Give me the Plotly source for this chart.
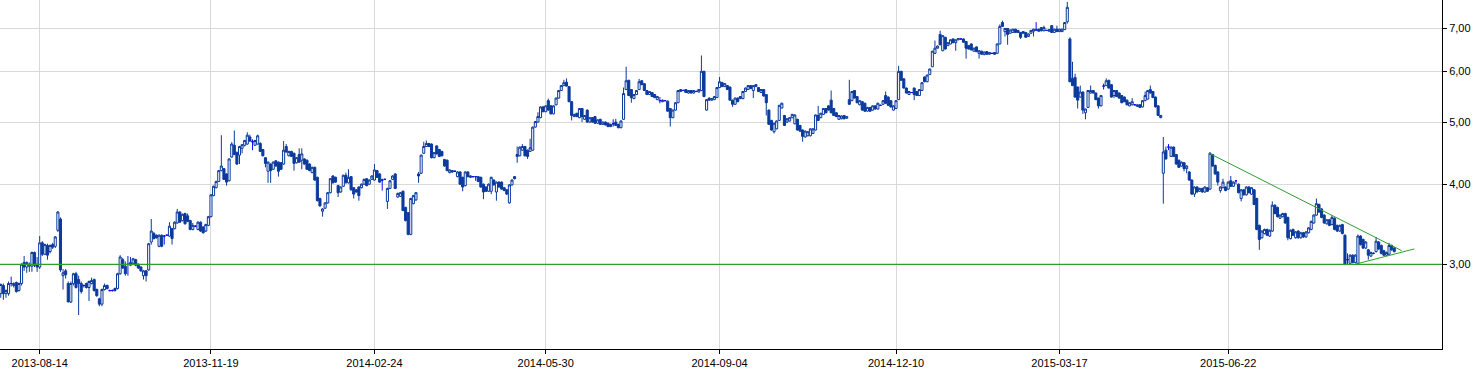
import numpy as np
import pandas as pd
import plotly.graph_objects as go

# ---------------- data ----------------
start_date = "2013-07-24"
gpw_holidays = ["2013-08-15", "2013-11-01", "2013-11-11", "2013-12-24", "2013-12-25",
                "2013-12-26", "2013-12-31", "2014-01-01", "2014-01-06", "2014-04-18",
                "2014-04-21", "2014-05-01", "2014-06-19", "2014-08-15", "2014-11-11",
                "2014-12-24", "2014-12-25", "2014-12-26", "2014-12-31", "2015-01-01",
                "2015-01-06", "2015-04-03", "2015-04-06", "2015-05-01", "2015-06-04"]

tick_dates = ["2013-08-14", "2013-11-19", "2014-02-24", "2014-05-30",
              "2014-09-04", "2014-12-10", "2015-03-17", "2015-06-22"]
price_ticks = [3, 4, 5, 6, 7]
price_tick_text = ["3,00", "4,00", "5,00", "6,00", "7,00"]

open_ = [
 2.70, 2.78, 2.70, 2.70, 2.80, 2.78, 2.81, 2.73, 2.80, 3.02,
 2.97, 2.98, 2.98, 3.13, 3.00, 2.97, 3.24, 3.11, 3.21, 3.14,
 3.22, 3.20, 3.39, 3.53, 2.88, 2.93, 2.80, 2.62, 2.80, 2.90,
 2.84, 2.80, 2.78, 2.80, 2.76, 2.80, 2.84, 2.74, 2.65, 2.60,
 2.74, 2.78, 2.73, 2.73, 2.73, 2.75, 2.90, 3.05, 2.98, 3.00,
 2.99, 3.01, 3.05, 3.00, 2.97, 2.88, 2.93, 2.94, 3.25, 3.35,
 3.33, 3.20, 3.33, 3.32, 3.33, 3.32, 3.41, 3.41, 3.48, 3.62,
 3.51, 3.60, 3.57, 3.51, 3.40, 3.44, 3.40, 3.49, 3.43, 3.38,
 3.45, 3.56, 3.84, 3.95, 4.04, 4.20, 4.23, 4.15, 4.05, 4.41,
 4.60, 4.48, 4.44, 4.55, 4.60, 4.62, 4.74, 4.66, 4.60, 4.62,
 4.63, 4.53, 4.40, 4.19, 4.30, 4.22, 4.35, 4.33, 4.32, 4.30,
 4.58, 4.43, 4.50, 4.47, 4.32, 4.45, 4.36, 4.38, 4.36, 4.30,
 4.17, 4.25, 4.10, 3.80, 3.63, 3.67, 3.74, 3.88, 4.12, 4.10,
 3.98, 3.89, 3.97, 4.13, 4.02, 4.11, 3.95, 3.92, 3.96, 3.95,
 4.00, 4.08, 4.00, 4.07, 4.06, 4.20, 4.15, 4.06, 4.07, 3.76,
 3.94, 4.07, 4.15, 3.82, 3.83, 3.90, 3.68, 3.61, 3.34, 3.73,
 3.78, 4.15, 4.16, 4.47, 4.58, 4.63, 4.62, 4.40, 4.59, 4.53,
 4.50, 4.37, 4.36, 4.17, 4.20, 4.19, 4.11, 4.18, 4.10, 3.98,
 4.18, 4.10, 4.11, 4.11, 4.11, 4.10, 4.00, 3.96, 3.90, 3.90,
 4.06, 3.89, 4.03, 4.03, 3.95, 3.92, 3.74, 3.99, 4.11, 4.45,
 4.43, 4.52, 4.58, 4.52, 4.50, 4.52, 4.91, 5.00, 5.08, 5.28,
 5.19, 5.40, 5.30, 5.15, 5.32, 5.45, 5.60, 5.70, 5.77, 5.68,
 5.38, 5.10, 5.16, 5.08, 5.25, 5.05, 5.22, 5.00, 5.08, 5.10,
 4.98, 5.05, 4.96, 5.00, 4.98, 4.96, 4.97, 5.00, 4.96, 4.90,
 5.05, 5.62, 5.81, 5.62, 5.44, 5.52, 5.62, 5.80, 5.74, 5.60,
 5.52, 5.56, 5.52, 5.42, 5.40, 5.38, 5.40, 5.39, 5.25, 5.08,
 5.22, 5.36, 5.58, 5.60, 5.62, 5.55, 5.60, 5.55, 5.58, 5.57,
 5.60, 6.00, 5.22, 5.45, 5.41, 5.42, 5.46, 5.66, 5.76, 5.68,
 5.70, 5.67, 5.41, 5.33, 5.45, 5.48, 5.44, 5.58, 5.62, 5.70,
 5.60, 5.68, 5.66, 5.56, 5.62, 5.52, 5.22, 5.03, 4.83, 4.88,
 5.03, 5.26, 5.12, 5.00, 5.02, 5.08, 4.97, 5.05, 4.94, 4.86,
 4.74, 4.76, 4.76, 4.80, 4.86, 5.12, 5.08, 5.14, 5.25, 5.30,
 5.41, 5.25, 5.17, 5.05, 5.06, 5.12, 5.07, 5.42, 5.40, 5.60,
 5.48, 5.32, 5.38, 5.35, 5.20, 5.27, 5.22, 5.30, 5.24, 5.31,
 5.33, 5.50, 5.47, 5.40, 5.22, 5.25, 5.42, 6.00, 5.84, 5.65,
 5.52, 5.56, 5.65, 5.58, 5.50, 5.60, 5.88, 5.78, 5.93, 6.10,
 6.40, 6.52, 6.85, 6.46, 6.78, 6.58, 6.62, 6.74, 6.65, 6.72,
 6.74, 6.74, 6.68, 6.58, 6.62, 6.45, 6.55, 6.40, 6.45, 6.37,
 6.44, 6.38, 6.40, 6.42, 6.40, 6.62, 7.15, 6.92, 7.00, 6.88,
 6.90, 6.98, 6.95, 6.90, 6.92, 6.90, 6.80, 6.88, 6.93, 6.96,
 6.98, 7.02, 6.94, 6.95, 6.93, 7.07, 6.90, 6.98, 6.92, 6.92,
 6.97, 7.17, 6.74, 5.85, 5.87, 5.67, 5.47, 5.57, 5.17, 5.27,
 5.55, 5.60, 5.55, 5.45, 5.30, 5.69, 5.70, 5.81, 5.72, 5.50,
 5.60, 5.55, 5.50, 5.47, 5.41, 5.30, 5.32, 5.32, 5.29, 5.32,
 5.28, 5.40, 5.43, 5.62, 5.58, 5.47, 5.30, 5.08, 4.16, 4.52,
 4.57, 4.42, 4.57, 4.45, 4.36, 4.27, 4.32, 4.23, 4.18, 4.06,
 3.86, 3.96, 3.90, 3.94, 3.89, 3.95, 3.93, 4.45, 4.28, 4.18,
 3.91, 3.95, 3.96, 3.93, 4.05, 3.97, 4.05, 4.00, 3.80, 3.92,
 3.85, 3.96, 3.86, 3.92, 3.80, 3.45, 3.30, 3.35, 3.40, 3.32,
 3.38, 3.71, 3.68, 3.54, 3.56, 3.60, 3.55, 3.29, 3.40, 3.30,
 3.38, 3.30, 3.36, 3.31, 3.36, 3.40, 3.48, 3.58, 3.72, 3.66,
 3.58, 3.47, 3.52, 3.46, 3.54, 3.45, 3.38, 3.46, 3.33, 3.05,
 3.01, 3.10, 3.02, 3.01, 3.32, 3.28, 3.18, 3.16, 3.09, 3.12,
 3.14, 3.25, 3.21, 3.15, 3.10, 3.11, 3.21, 3.18]

high = [
 2.80, 2.80, 2.74, 2.82, 2.87, 2.81, 2.82, 2.81, 3.01, 3.09,
 3.03, 3.02, 3.14, 3.14, 3.08, 3.32, 3.26, 3.23, 3.23, 3.22,
 3.24, 3.32, 3.63, 3.55, 2.95, 2.95, 2.82, 2.82, 2.91, 2.92,
 2.88, 2.82, 2.79, 2.81, 2.83, 2.86, 2.85, 2.75, 2.66, 2.75,
 2.80, 2.79, 2.74, 2.74, 2.76, 2.91, 3.10, 3.07, 3.03, 3.09,
 3.08, 3.07, 3.06, 3.01, 2.98, 2.94, 2.94, 3.24, 3.53, 3.37,
 3.34, 3.34, 3.34, 3.33, 3.34, 3.49, 3.42, 3.50, 3.66, 3.63,
 3.60, 3.61, 3.60, 3.52, 3.48, 3.45, 3.50, 3.50, 3.44, 3.47,
 3.57, 3.86, 3.98, 4.05, 4.21, 4.77, 4.24, 4.16, 4.39, 4.65,
 4.85, 4.50, 4.59, 4.62, 4.69, 4.82, 4.78, 4.70, 4.69, 4.78,
 4.65, 4.54, 4.41, 4.34, 4.31, 4.34, 4.36, 4.34, 4.33, 4.67,
 4.62, 4.51, 4.51, 4.48, 4.41, 4.55, 4.55, 4.39, 4.37, 4.31,
 4.26, 4.26, 4.11, 3.81, 3.67, 3.75, 3.89, 4.09, 4.13, 4.11,
 3.99, 3.97, 4.14, 4.17, 4.22, 4.12, 3.96, 3.93, 3.97, 4.01,
 4.08, 4.09, 4.07, 4.13, 4.30, 4.21, 4.16, 4.08, 4.08, 3.95,
 4.06, 4.13, 4.16, 3.88, 3.89, 3.91, 3.69, 3.62, 3.81, 3.85,
 3.89, 4.18, 4.45, 4.66, 4.68, 4.64, 4.63, 4.49, 4.60, 4.54,
 4.51, 4.38, 4.37, 4.22, 4.21, 4.20, 4.19, 4.19, 4.11, 4.19,
 4.19, 4.13, 4.12, 4.12, 4.12, 4.11, 4.01, 3.97, 4.01, 4.11,
 4.07, 4.04, 4.04, 4.04, 3.96, 3.93, 4.00, 4.07, 4.12, 4.58,
 4.58, 4.62, 4.59, 4.53, 4.71, 4.92, 5.02, 5.18, 5.29, 5.30,
 5.31, 5.44, 5.31, 5.31, 5.46, 5.61, 5.71, 5.82, 5.85, 5.69,
 5.39, 5.15, 5.17, 5.26, 5.26, 5.13, 5.23, 5.09, 5.09, 5.11,
 5.05, 5.06, 5.01, 5.01, 4.99, 4.97, 5.05, 5.06, 4.97, 5.03,
 5.66, 6.10, 5.82, 5.63, 5.53, 5.61, 5.84, 5.81, 5.75, 5.61,
 5.59, 5.57, 5.53, 5.49, 5.47, 5.42, 5.41, 5.40, 5.26, 5.23,
 5.37, 5.61, 5.63, 5.62, 5.63, 5.61, 5.61, 5.61, 5.60, 5.63,
 6.35, 6.01, 5.43, 5.46, 5.45, 5.49, 5.67, 5.88, 5.78, 5.75,
 5.71, 5.68, 5.42, 5.46, 5.46, 5.49, 5.59, 5.66, 5.71, 5.71,
 5.71, 5.73, 5.67, 5.63, 5.63, 5.53, 5.23, 5.04, 4.99, 5.03,
 5.32, 5.36, 5.13, 5.07, 5.09, 5.15, 5.14, 5.06, 4.95, 4.87,
 4.85, 4.84, 4.89, 4.89, 5.14, 5.30, 5.17, 5.26, 5.26, 5.31,
 5.60, 5.26, 5.18, 5.13, 5.12, 5.13, 5.11, 5.82, 5.59, 5.61,
 5.49, 5.41, 5.39, 5.36, 5.28, 5.28, 5.31, 5.31, 5.36, 5.32,
 5.41, 5.58, 5.48, 5.41, 5.31, 5.41, 6.12, 6.01, 5.85, 5.66,
 5.59, 5.57, 5.66, 5.59, 5.63, 5.77, 5.89, 5.93, 6.06, 6.46,
 6.70, 6.58, 6.94, 6.83, 6.79, 6.66, 6.73, 6.75, 6.73, 6.76,
 6.75, 6.75, 6.69, 6.59, 6.63, 6.53, 6.56, 6.47, 6.46, 6.44,
 6.45, 6.43, 6.41, 6.43, 6.63, 7.10, 7.20, 7.01, 7.01, 6.97,
 6.99, 6.99, 6.96, 6.91, 6.93, 6.91, 6.88, 6.96, 6.99, 7.16,
 6.99, 7.03, 7.07, 6.96, 6.98, 7.08, 6.99, 7.07, 6.99, 6.99,
 7.16, 7.70, 6.78, 6.21, 5.95, 5.68, 5.70, 5.58, 5.25, 5.61,
 5.70, 5.61, 5.56, 5.46, 5.51, 5.74, 5.85, 5.82, 5.73, 5.61,
 5.61, 5.56, 5.51, 5.48, 5.42, 5.37, 5.45, 5.33, 5.33, 5.33,
 5.41, 5.58, 5.61, 5.70, 5.59, 5.48, 5.31, 5.13, 4.74, 4.58,
 4.62, 4.58, 4.58, 4.46, 4.37, 4.34, 4.33, 4.28, 4.19, 4.07,
 3.97, 3.97, 3.95, 3.95, 3.97, 3.96, 4.49, 4.46, 4.29, 4.19,
 3.97, 4.08, 3.97, 4.04, 4.12, 4.04, 4.06, 4.01, 3.93, 3.93,
 3.97, 3.97, 3.96, 3.93, 3.81, 3.46, 3.39, 3.41, 3.41, 3.40,
 3.76, 3.72, 3.69, 3.59, 3.61, 3.61, 3.56, 3.40, 3.41, 3.38,
 3.39, 3.37, 3.37, 3.38, 3.43, 3.51, 3.59, 3.80, 3.73, 3.67,
 3.59, 3.53, 3.53, 3.58, 3.55, 3.46, 3.46, 3.47, 3.34, 3.12,
 3.11, 3.11, 3.11, 3.34, 3.33, 3.29, 3.26, 3.17, 3.14, 3.13,
 3.31, 3.26, 3.22, 3.16, 3.14, 3.24, 3.22, 3.19]

low = [
 2.66, 2.64, 2.66, 2.68, 2.77, 2.76, 2.71, 2.72, 2.78, 2.93,
 2.91, 2.92, 2.92, 2.97, 2.92, 2.95, 3.09, 3.10, 3.05, 3.12,
 3.17, 3.18, 3.37, 2.92, 2.74, 2.85, 2.62, 2.61, 2.78, 2.75,
 2.50, 2.70, 2.76, 2.75, 2.63, 2.79, 2.72, 2.67, 2.58, 2.58,
 2.73, 2.74, 2.72, 2.72, 2.72, 2.74, 2.89, 2.95, 2.88, 2.88,
 2.98, 3.00, 2.98, 2.95, 2.92, 2.84, 2.82, 2.93, 3.22, 3.28,
 3.29, 3.19, 3.19, 3.22, 3.32, 3.31, 3.22, 3.40, 3.47, 3.48,
 3.50, 3.46, 3.49, 3.39, 3.39, 3.43, 3.39, 3.37, 3.35, 3.37,
 3.44, 3.55, 3.83, 3.94, 4.03, 4.19, 4.06, 3.98, 4.04, 4.40,
 4.44, 4.29, 4.30, 4.47, 4.58, 4.61, 4.66, 4.52, 4.59, 4.61,
 4.49, 4.42, 4.25, 4.02, 4.02, 4.21, 4.26, 4.11, 4.21, 4.29,
 4.48, 4.42, 4.41, 4.20, 4.31, 4.32, 4.22, 4.29, 4.21, 4.19,
 4.16, 4.05, 3.76, 3.69, 3.56, 3.66, 3.73, 3.87, 4.01, 4.02,
 3.82, 3.88, 3.96, 4.01, 4.01, 3.91, 3.80, 3.88, 3.77, 3.94,
 3.99, 3.97, 3.99, 4.06, 4.05, 4.09, 4.02, 3.91, 4.06, 3.66,
 3.93, 4.06, 3.93, 3.81, 3.82, 3.63, 3.50, 3.33, 3.33, 3.72,
 3.77, 4.02, 4.15, 4.46, 4.57, 4.57, 4.39, 4.39, 4.45, 4.41,
 4.42, 4.26, 4.19, 4.16, 4.17, 4.18, 4.10, 3.99, 3.90, 3.97,
 4.10, 4.09, 4.10, 4.05, 4.03, 3.95, 3.79, 3.89, 3.89, 3.86,
 3.98, 3.77, 3.95, 3.92, 3.90, 3.85, 3.73, 3.98, 4.07, 4.32,
 4.42, 4.51, 4.42, 4.38, 4.49, 4.51, 4.90, 4.99, 5.07, 5.18,
 5.18, 5.21, 5.14, 5.14, 5.31, 5.44, 5.59, 5.69, 5.68, 5.37,
 5.03, 5.09, 5.09, 5.07, 5.00, 5.04, 4.99, 4.99, 4.99, 4.97,
 4.97, 4.95, 4.95, 4.94, 4.91, 4.91, 4.92, 4.93, 4.89, 4.89,
 5.04, 5.61, 5.49, 5.36, 5.43, 5.51, 5.61, 5.71, 5.59, 5.51,
 5.51, 5.47, 5.45, 5.41, 5.35, 5.37, 5.39, 5.19, 4.92, 5.07,
 5.21, 5.35, 5.57, 5.59, 5.55, 5.54, 5.54, 5.54, 5.57, 5.56,
 5.59, 5.47, 5.21, 5.40, 5.40, 5.41, 5.45, 5.65, 5.67, 5.67,
 5.61, 5.40, 5.28, 5.32, 5.37, 5.43, 5.43, 5.57, 5.61, 5.63,
 5.45, 5.67, 5.57, 5.55, 5.48, 5.12, 4.95, 4.85, 4.80, 4.87,
 5.02, 5.25, 4.93, 4.99, 5.01, 5.07, 4.96, 4.85, 4.83, 4.66,
 4.73, 4.75, 4.75, 4.79, 4.85, 5.02, 5.07, 5.13, 5.16, 5.21,
 5.16, 5.11, 5.09, 5.04, 5.05, 5.05, 5.06, 5.32, 5.39, 5.44,
 5.35, 5.31, 5.21, 5.19, 5.19, 5.19, 5.21, 5.23, 5.23, 5.30,
 5.32, 5.34, 5.30, 5.27, 5.21, 5.24, 5.41, 5.80, 5.64, 5.54,
 5.51, 5.55, 5.41, 5.49, 5.49, 5.59, 5.77, 5.77, 5.92, 6.09,
 6.39, 6.51, 6.59, 6.45, 6.49, 6.57, 6.61, 6.64, 6.46, 6.71,
 6.73, 6.65, 6.28, 6.49, 6.47, 6.44, 6.43, 6.28, 6.37, 6.36,
 6.37, 6.37, 6.39, 6.37, 6.39, 6.61, 7.04, 6.80, 6.60, 6.87,
 6.89, 6.89, 6.89, 6.74, 6.87, 6.77, 6.79, 6.87, 6.80, 6.95,
 6.92, 6.93, 6.93, 6.94, 6.92, 6.89, 6.89, 6.91, 6.91, 6.91,
 6.96, 7.12, 5.77, 5.69, 5.46, 5.25, 5.46, 5.15, 5.05, 5.26,
 5.54, 5.54, 5.41, 5.25, 5.29, 5.62, 5.69, 5.64, 5.46, 5.45,
 5.47, 5.44, 5.35, 5.37, 5.31, 5.29, 5.31, 5.31, 5.28, 5.26,
 5.27, 5.39, 5.42, 5.54, 5.45, 5.27, 5.11, 5.07, 3.73, 4.37,
 4.52, 4.41, 4.41, 4.29, 4.24, 4.26, 4.19, 4.16, 4.05, 3.85,
 3.82, 3.88, 3.89, 3.88, 3.88, 3.89, 3.92, 4.26, 4.14, 3.98,
 3.88, 3.94, 3.90, 3.92, 3.96, 3.96, 4.00, 3.87, 3.76, 3.84,
 3.84, 3.87, 3.85, 3.71, 3.39, 3.16, 3.29, 3.34, 3.32, 3.31,
 3.37, 3.59, 3.55, 3.53, 3.55, 3.47, 3.27, 3.28, 3.32, 3.29,
 3.29, 3.29, 3.30, 3.30, 3.35, 3.39, 3.47, 3.57, 3.61, 3.54,
 3.47, 3.46, 3.44, 3.45, 3.39, 3.37, 3.37, 3.34, 2.99, 3.00,
 3.00, 3.01, 3.01, 3.00, 3.21, 3.17, 3.17, 3.05, 3.08, 3.11,
 3.13, 3.16, 3.11, 3.09, 3.09, 3.10, 3.15, 3.13]

close = [
 2.79, 2.70, 2.73, 2.80, 2.80, 2.80, 2.72, 2.80, 3.00, 2.97,
 3.02, 3.00, 3.13, 2.99, 2.97, 3.24, 3.11, 3.22, 3.10, 3.21,
 3.19, 3.31, 3.62, 2.94, 2.91, 2.89, 2.62, 2.80, 2.90, 2.76,
 2.80, 2.72, 2.78, 2.76, 2.82, 2.83, 2.73, 2.68, 2.60, 2.74,
 2.78, 2.75, 2.73, 2.73, 2.75, 2.90, 3.08, 2.96, 2.90, 3.00,
 3.02, 3.06, 2.99, 2.96, 2.93, 2.93, 2.88, 3.23, 3.38, 3.29,
 3.30, 3.33, 3.20, 3.32, 3.33, 3.44, 3.29, 3.49, 3.62, 3.49,
 3.59, 3.47, 3.50, 3.40, 3.45, 3.44, 3.49, 3.38, 3.36, 3.46,
 3.56, 3.85, 3.97, 4.04, 4.20, 4.27, 4.07, 4.03, 4.38, 4.62,
 4.45, 4.30, 4.58, 4.61, 4.68, 4.77, 4.67, 4.66, 4.68, 4.76,
 4.50, 4.43, 4.31, 4.33, 4.20, 4.33, 4.27, 4.19, 4.22, 4.52,
 4.49, 4.50, 4.42, 4.31, 4.40, 4.33, 4.46, 4.30, 4.22, 4.20,
 4.25, 4.06, 3.77, 3.70, 3.66, 3.74, 3.88, 4.08, 4.02, 4.03,
 3.88, 3.96, 4.13, 4.02, 4.10, 3.92, 3.86, 3.89, 3.84, 4.00,
 4.07, 3.98, 4.06, 4.12, 4.21, 4.10, 4.03, 4.06, 4.07, 3.94,
 4.05, 4.12, 3.94, 3.87, 3.88, 3.64, 3.51, 3.34, 3.80, 3.84,
 3.88, 4.12, 4.44, 4.58, 4.63, 4.58, 4.40, 4.48, 4.46, 4.42,
 4.43, 4.27, 4.20, 4.21, 4.18, 4.19, 4.18, 4.00, 3.96, 4.18,
 4.11, 4.12, 4.11, 4.11, 4.04, 3.96, 3.89, 3.90, 4.00, 4.10,
 3.99, 4.03, 3.96, 3.93, 3.91, 3.86, 3.99, 4.06, 4.08, 4.42,
 4.57, 4.58, 4.43, 4.42, 4.56, 4.91, 5.01, 5.10, 5.28, 5.19,
 5.30, 5.22, 5.15, 5.30, 5.45, 5.60, 5.70, 5.76, 5.69, 5.38,
 5.12, 5.14, 5.10, 5.25, 5.10, 5.12, 5.00, 5.08, 5.00, 4.98,
 5.04, 4.96, 5.00, 4.95, 4.92, 4.92, 4.97, 4.94, 4.90, 5.02,
 5.54, 5.80, 5.50, 5.46, 5.52, 5.60, 5.78, 5.72, 5.60, 5.52,
 5.58, 5.48, 5.46, 5.48, 5.40, 5.41, 5.40, 5.20, 5.08, 5.22,
 5.36, 5.60, 5.62, 5.60, 5.56, 5.60, 5.55, 5.60, 5.58, 5.62,
 6.00, 5.48, 5.42, 5.41, 5.44, 5.48, 5.66, 5.78, 5.68, 5.74,
 5.62, 5.41, 5.33, 5.45, 5.38, 5.44, 5.58, 5.65, 5.70, 5.64,
 5.70, 5.72, 5.58, 5.62, 5.49, 5.36, 4.96, 4.86, 4.98, 5.02,
 5.31, 5.35, 4.94, 5.06, 5.08, 5.14, 5.13, 4.86, 4.84, 4.75,
 4.84, 4.83, 4.88, 4.88, 5.13, 5.03, 5.16, 5.25, 5.17, 5.22,
 5.17, 5.12, 5.10, 5.12, 5.11, 5.06, 5.10, 5.33, 5.58, 5.45,
 5.36, 5.40, 5.22, 5.20, 5.27, 5.20, 5.30, 5.24, 5.35, 5.31,
 5.40, 5.35, 5.31, 5.28, 5.30, 5.40, 6.00, 5.81, 5.65, 5.55,
 5.58, 5.56, 5.52, 5.50, 5.62, 5.76, 5.78, 5.92, 6.05, 6.45,
 6.52, 6.57, 6.60, 6.82, 6.50, 6.65, 6.72, 6.65, 6.72, 6.75,
 6.74, 6.66, 6.52, 6.50, 6.48, 6.52, 6.44, 6.46, 6.38, 6.43,
 6.38, 6.42, 6.40, 6.38, 6.62, 7.05, 7.05, 7.00, 6.85, 6.96,
 6.98, 6.90, 6.90, 6.78, 6.88, 6.78, 6.86, 6.95, 6.98, 6.96,
 6.93, 6.94, 7.02, 6.95, 6.97, 6.90, 6.98, 6.92, 6.98, 6.98,
 7.15, 7.55, 5.78, 5.70, 5.47, 5.41, 5.57, 5.22, 5.24, 5.60,
 5.60, 5.55, 5.42, 5.30, 5.50, 5.69, 5.80, 5.65, 5.47, 5.60,
 5.48, 5.45, 5.36, 5.38, 5.32, 5.36, 5.38, 5.32, 5.32, 5.27,
 5.40, 5.50, 5.60, 5.55, 5.46, 5.28, 5.12, 5.12, 4.49, 4.38,
 4.57, 4.57, 4.42, 4.30, 4.25, 4.33, 4.23, 4.27, 4.06, 3.86,
 3.96, 3.89, 3.94, 3.89, 3.96, 3.90, 4.47, 4.27, 4.15, 4.03,
 3.96, 4.03, 3.91, 4.03, 3.97, 4.03, 4.05, 3.88, 3.92, 3.85,
 3.96, 3.88, 3.95, 3.72, 3.40, 3.28, 3.38, 3.40, 3.33, 3.39,
 3.71, 3.60, 3.56, 3.58, 3.60, 3.48, 3.30, 3.39, 3.33, 3.37,
 3.30, 3.36, 3.31, 3.37, 3.42, 3.50, 3.58, 3.73, 3.62, 3.55,
 3.48, 3.52, 3.45, 3.55, 3.40, 3.38, 3.45, 3.35, 3.00, 3.05,
 3.10, 3.02, 3.10, 3.32, 3.22, 3.18, 3.25, 3.10, 3.13, 3.12,
 3.26, 3.17, 3.12, 3.10, 3.13, 3.21, 3.16, 3.14]

# support line and triangle (bar index, price)
support_level = 3.00
upper_trend_x = [465.7, 539.9]
upper_trend_y = [4.47, 3.15]
lower_trend_x = [521.9, 544.7]
lower_trend_y = [3.00, 3.17]

# ---------------- style ----------------
CANDLE = "#0B3A9C"
DOJI = "#1010F0"
GREEN = "#2E9E2E"
GRID = "#D9D9D9"
FONT = "Liberation Sans, Arial, sans-serif"

x_range = [-0.30, 555.4]
y_range = [np.log10(2.213), np.log10(7.752)]

# ---------------- build ----------------
n = len(close)
dates = pd.bdate_range(start=start_date, periods=n + 60, freq="C",
                       holidays=gpw_holidays)[:n]
date_str = list(dates.strftime("%Y-%m-%d"))
tick_idx = [date_str.index(d) for d in tick_dates]

o = np.array(open_); h = np.array(high); l = np.array(low); c = np.array(close)
xi = np.arange(n)
doji = np.isclose(o, c)
reg = ~doji

fig = go.Figure()
fig.add_trace(go.Candlestick(
    x=xi[reg], open=o[reg], high=h[reg], low=l[reg], close=c[reg],
    increasing=dict(line=dict(color=CANDLE, width=1), fillcolor="white"),
    decreasing=dict(line=dict(color=CANDLE, width=1), fillcolor=CANDLE),
    whiskerwidth=0, hoverinfo="skip", showlegend=False))
fig.add_trace(go.Candlestick(
    x=xi[doji], open=o[doji], high=h[doji], low=l[doji], close=c[doji],
    increasing=dict(line=dict(color=DOJI, width=1), fillcolor=DOJI),
    decreasing=dict(line=dict(color=DOJI, width=1), fillcolor=DOJI),
    whiskerwidth=0, hoverinfo="skip", showlegend=False))

fig.add_trace(go.Scatter(x=x_range, y=[support_level, support_level], mode="lines",
                         line=dict(color=GREEN, width=1.3), hoverinfo="skip",
                         showlegend=False))
fig.add_trace(go.Scatter(x=upper_trend_x, y=upper_trend_y, mode="lines",
                         line=dict(color=GREEN, width=1), hoverinfo="skip",
                         showlegend=False))
fig.add_trace(go.Scatter(x=lower_trend_x, y=lower_trend_y, mode="lines",
                         line=dict(color=GREEN, width=1), hoverinfo="skip",
                         showlegend=False))

fig.update_layout(
    width=1479, height=369,
    margin=dict(l=0, r=37, t=0, b=20, pad=0),
    paper_bgcolor="white", plot_bgcolor="white",
    font=dict(family=FONT, size=11, color="black"),
    showlegend=False,
    boxgap=0.2, boxgroupgap=0.0,
    xaxis=dict(
        range=x_range, tickmode="array", tickvals=tick_idx, ticktext=tick_dates,
        showgrid=True, gridcolor=GRID, gridwidth=1, zeroline=False,
        showline=True, linecolor="black", linewidth=1,
        ticks="outside", ticklen=4, tickcolor="black",
        tickfont=dict(family=FONT, size=11, color="black"),
        rangeslider=dict(visible=False), fixedrange=True),
    yaxis=dict(
        type="log", side="right", range=y_range,
        tickmode="array", tickvals=price_ticks, ticktext=price_tick_text,
        showgrid=True, gridcolor=GRID, gridwidth=1, zeroline=False,
        showline=True, linecolor="black", linewidth=1,
        ticks="outside", ticklen=4, tickcolor="black",
        tickfont=dict(family=FONT, size=11, color="black"), fixedrange=True),
)

fig.write_html("out.html", config={"displayModeBar": False})
